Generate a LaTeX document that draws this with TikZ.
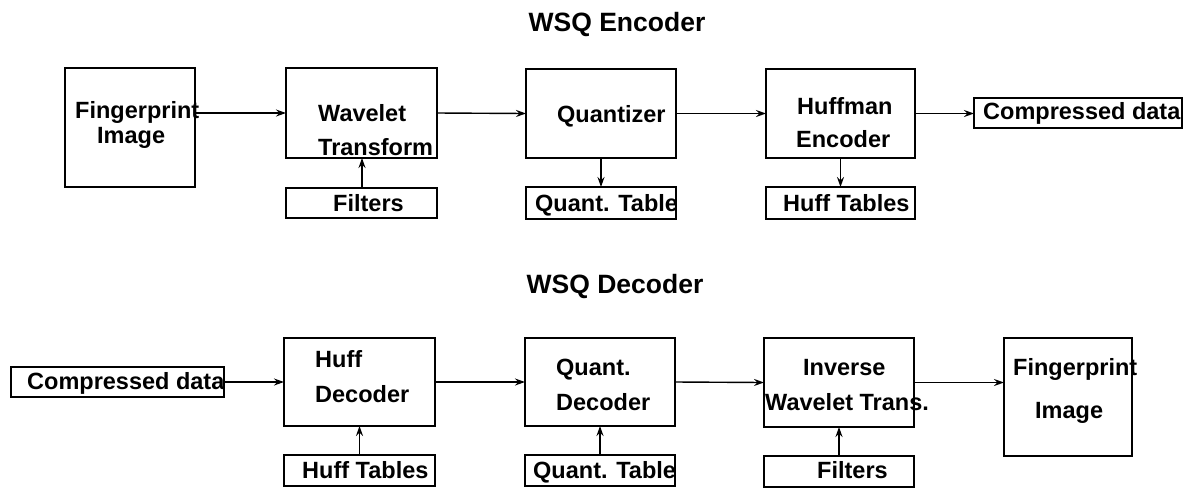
\documentclass[tikz,border=0pt]{standalone}
\usepackage{fontspec}
\setmainfont{Liberation Sans}
\usetikzlibrary{arrows.meta}

\tikzset{
  blockbox/.style={draw, line width=1.8pt, rectangle, inner sep=0pt, outer sep=0pt},
  txt/.style={inner sep=0pt, font=\bfseries\fontsize{23.5}{26}\selectfont, anchor=base west},
  ttl/.style={inner sep=0pt, font=\bfseries\fontsize{26.5}{30}\selectfont, anchor=base},
  flow/.style={line width=1.4pt, -{Stealth[length=10pt,width=7pt]}},
}

\newcommand{\boxat}[5]{% name, x1, y1, x2, y2
  \node[blockbox, minimum width={(#4-#2)*1pt}, minimum height={(#5-#3)*1pt}]
    (#1) at ({(#2+#4)/2},{(#3+#5)/2}) {};}

\begin{document}
\begin{tikzpicture}[x=1pt,y=-1pt]
\useasboundingbox (0,0) rectangle (1192,491);

% ---------------- encoder ----------------
\node[ttl] (encT) at (617,31) {WSQ Encoder};

\boxat{fpE}{65}{68}{195}{187}
\boxat{wt}{286}{68}{437}{158}
\boxat{fE}{286}{188}{437}{218}
\boxat{qz}{526}{69}{676}{158}
\boxat{qtE}{526}{187}{676}{219}
\boxat{he}{766}{69}{915}{158}
\boxat{htE}{766}{187}{915}{219}
\boxat{cdE}{974}{98}{1182}{128}

\node[txt] (fpE1) at (75,118) {Fingerprint};
\node[txt] (fpE2) at (97,143) {Image};
\node[txt] (wt1) at (318,121) {Wavelet};
\node[txt] (wt2) at (318,155) {Transform};
\node[txt] (fE1) at (333,211) {Filters};
\node[txt] (qz1) at (557,122) {Quantizer};
\node[txt] (qtE1) at (535,211) {Quant. Table};
\node[txt] (he1) at (797,114) {Huffman};
\node[txt] (he2) at (796,147) {Encoder};
\node[txt] (htE1) at (783,211) {Huff Tables};
\node[txt] (cdE1) at (983,119) {Compressed data};

\draw[flow] (fpE.east |- wt.west) -- (wt.west);
\draw[flow] (wt.east) -- (qz.west);
\draw[flow] (qz.east) -- (he.west);
\draw[flow] (he.east) -- (cdE.west |- he.east);
\draw[flow] ([xshift=0.5pt]fE.north) -- ([xshift=0.5pt]wt.south);
\draw[flow] (qz.south) -- (qtE.north);
\draw[flow] (he.south) -- (htE.north);

% ---------------- decoder ----------------
\node[ttl] (decT) at (615,293) {WSQ Decoder};

\boxat{cdD}{11}{367}{224}{397}
\boxat{hd}{284}{338}{435}{426}
\boxat{htD}{284}{455}{435}{486}
\boxat{qd}{525}{338}{675}{426}
\boxat{qtD}{525}{455}{675}{486}
\boxat{iw}{764}{338}{914}{427}
\boxat{fD}{764}{456}{914}{487}
\boxat{fpD}{1004}{338}{1132}{456}

\node[txt] (cdD1) at (27,389) {Compressed data};
\node[txt] (hd1) at (315,367) {Huff};
\node[txt] (hd2) at (315,402) {Decoder};
\node[txt] (htD1) at (302,478) {Huff Tables};
\node[txt] (qd1) at (556,375) {Quant.};
\node[txt] (qd2) at (556,410) {Decoder};
\node[txt] (qtD1) at (533,478) {Quant. Table};
\node[txt] (iw1) at (803,375) {Inverse};
\node[txt] (iw2) at (765,410) {Wavelet Trans.};
\node[txt] (fD1) at (817,478) {Filters};
\node[txt] (fpD1) at (1013,375) {Fingerprint};
\node[txt] (fpD2) at (1035,418) {Image};

\draw[flow] (cdD.east |- hd.west) -- (hd.west);
\draw[flow] (hd.east) -- (qd.west);
\draw[flow] (qd.east) -- (iw.west);
\draw[flow] (iw.east) -- (fpD.west |- iw.east);
\draw[flow] (htD.north) -- (hd.south);
\draw[flow] (qtD.north) -- (qd.south);
\draw[flow] (fD.north) -- (iw.south);
\end{tikzpicture}
\end{document}
